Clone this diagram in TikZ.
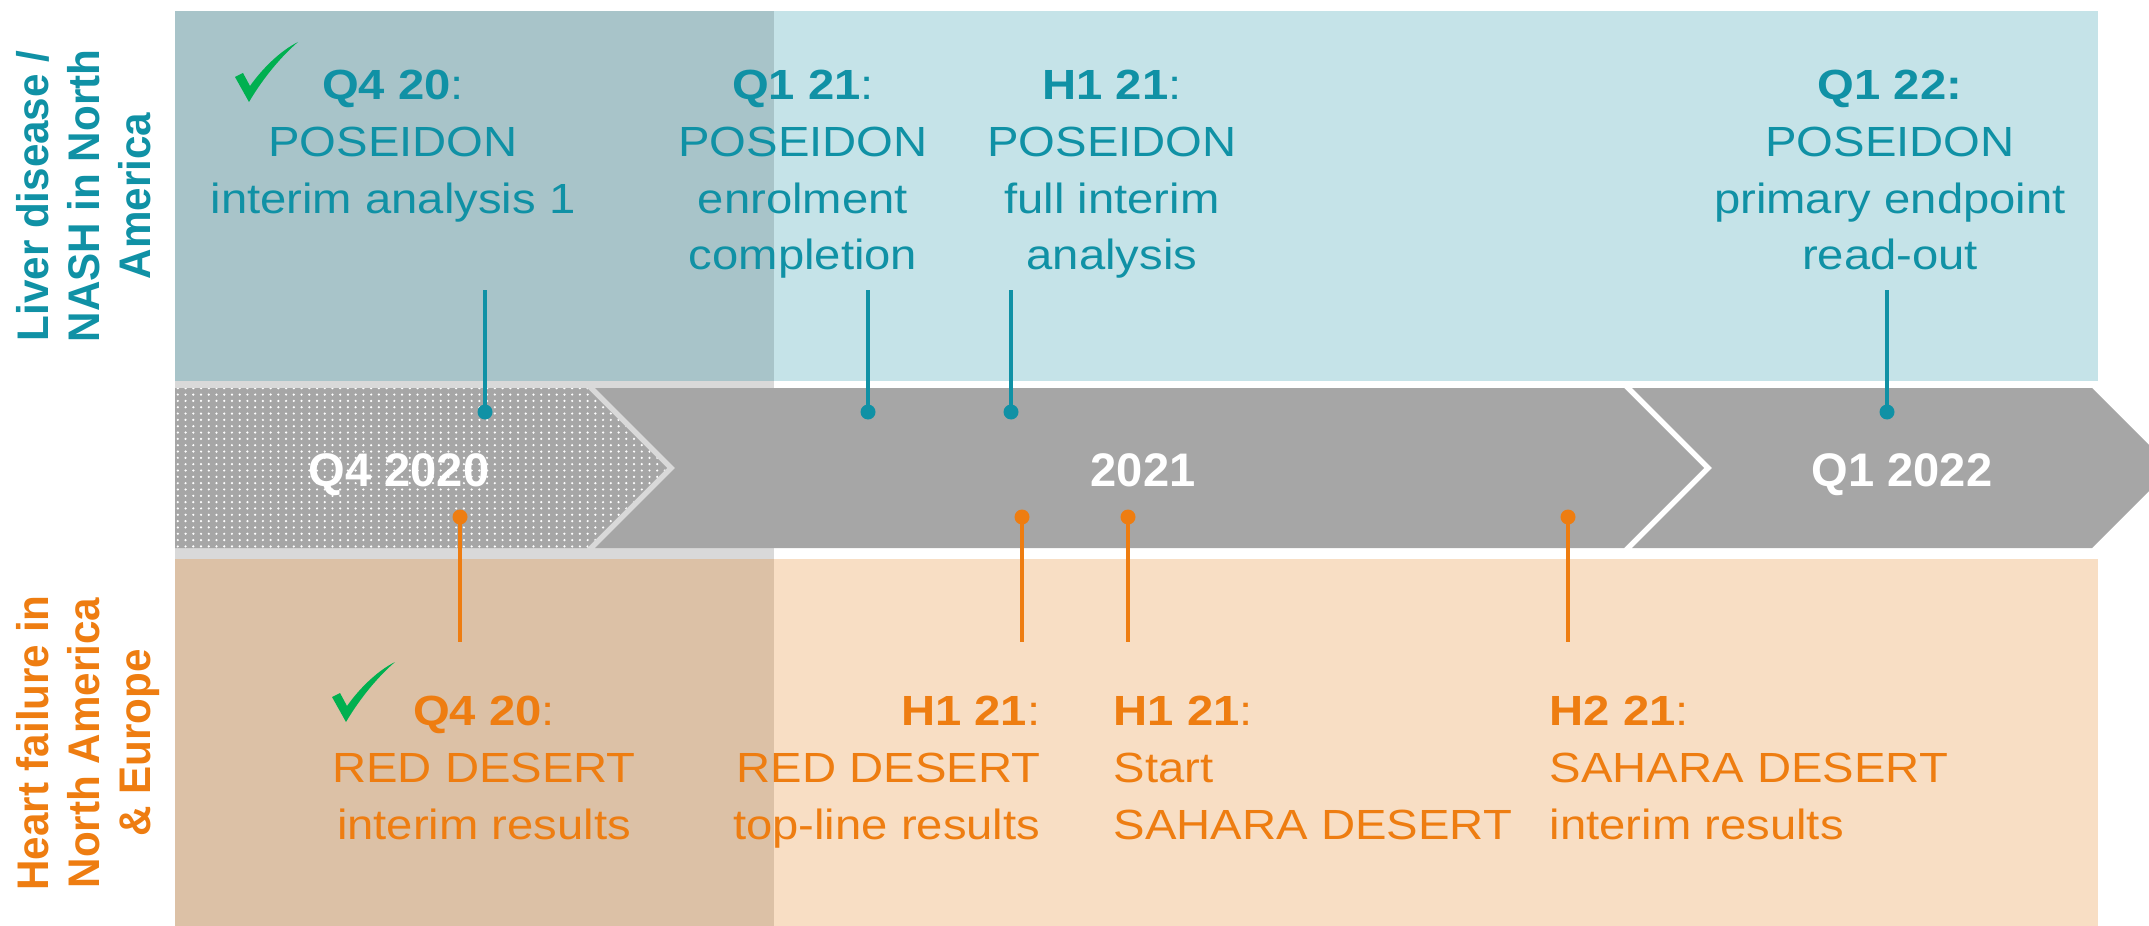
\documentclass[tikz,border=0pt]{standalone}
\usepackage{fontspec}
\setmainfont{Liberation Sans}
\usetikzlibrary{patterns}

\definecolor{tealtxt}{RGB}{16,145,165}
\definecolor{orangetxt}{RGB}{238,125,17}
\definecolor{tealband}{RGB}{197,227,232}
\definecolor{peachband}{RGB}{248,222,196}
\definecolor{tealshade}{RGB}{168,196,201}
\definecolor{peachshade}{RGB}{220,193,166}
\definecolor{gapshade}{RGB}{217,217,217}
\definecolor{bargrey}{RGB}{166,166,166}
\definecolor{tickgreen}{RGB}{0,176,80}

\pgfdeclarepatternformonly{finedots}{\pgfqpoint{-0.5pt}{-0.5pt}}{\pgfqpoint{0.5pt}{0.5pt}}{\pgfqpoint{2.2pt}{1.8pt}}{\pgfpathcircle{\pgfpointorigin}{0.35pt}\pgfusepath{fill}}

\newcommand{\tick}[2]{\fill[tickgreen,shift={(#1,#2)}] (0,0) -- (8,-4) -- (15,9) .. controls (27,-8) and (45,-26) .. (63,-35) .. controls (48,-22) and (30,-2) .. (14,25) -- cycle;}

\tikzset{
  bodytxt/.style={inner sep=0pt, xscale=1.12, font=\fontsize{12}{16.2}\selectfont},
  toptxt/.style={bodytxt, text=tealtxt, align=center, anchor=north},
  bottxt/.style={bodytxt, text=orangetxt},
  sidelbl/.style={inner sep=0pt, rotate=90, yscale=1.05, align=center, anchor=north, font=\fontsize{12}{13.8}\selectfont\bfseries},
  barlbl/.style={inner sep=0pt, text=white, anchor=base, font=\fontsize{13.4}{15}\selectfont\bfseries},
  tdot/.style={circle, fill=tealtxt, inner sep=0pt, minimum size=1.5mm},
  bdot/.style={circle, fill=orangetxt, inner sep=0pt, minimum size=1.5mm},
  tline/.style={draw=tealtxt, line width=0.45mm},
  bline/.style={draw=orangetxt, line width=0.45mm}
}

\begin{document}
\begin{tikzpicture}[x=0.1mm,y=-0.1mm]
\useasboundingbox (0,0) rectangle (2149,926);

%Bands
\fill[tealband] (175,11) rectangle (2098,381);
\fill[peachband] (175,559) rectangle (2098,926);
%Shaded past
\fill[tealshade] (175,11) rectangle (774,381);
\fill[gapshade] (175,381) rectangle (774,559);
\fill[peachshade] (175,559) rectangle (774,926);

%Timeline
\fill[pattern=finedots,pattern color=white,preaction={fill=bargrey}] (175,388) -- (587,388) -- (667,468) -- (587,548) -- (175,548) -- cycle;
\fill[bargrey] (595,388) -- (1624,388) -- (1704,468) -- (1624,548) -- (595,548) -- (675,468) -- cycle;
\fill[bargrey] (1632,388) -- (2092,388) -- (2172,468) -- (2092,548) -- (1632,548) -- (1712,468) -- cycle;
\node[barlbl] (q4) at (399,486) {Q4 2020};
\node[barlbl] (y21) at (1143,486) {2021};
\node[barlbl] (q1) at (1902,486) {Q1 2022};

%Side labels
\node[sidelbl,text=tealtxt] (liver) at (16,196) {Liver disease /\\NASH in North\\America};
\node[sidelbl,text=orangetxt] (heart) at (16,743) {Heart failure in\\North America\\\& Europe};

%POSEIDON
\node[toptxt] (p1) at (393,69) {\textbf{Q4 20}:\\POSEIDON\\interim analysis 1};
\node[toptxt] (p2) at (803,69) {\textbf{Q1 21}:\\POSEIDON\\enrolment\\completion};
\node[toptxt] (p3) at (1112,69) {\textbf{H1 21}:\\POSEIDON\\full interim\\analysis};
\node[toptxt] (p4) at (1890,69) {\textbf{Q1 22:}\\POSEIDON\\primary endpoint\\read-out};
\tick{235}{77}

\node[tdot] (pd1) at (485,412) {};
\node[tdot] (pd2) at (868,412) {};
\node[tdot] (pd3) at (1011,412) {};
\node[tdot] (pd4) at (1887,412) {};
\coordinate (pe1) at (485,290);
\coordinate (pe2) at (868,290);
\coordinate (pe3) at (1011,290);
\coordinate (pe4) at (1887,290);
\draw[tline] (pd1.center) -- (pe1);
\draw[tline] (pd2.center) -- (pe2);
\draw[tline] (pd3.center) -- (pe3);
\draw[tline] (pd4.center) -- (pe4);

%DESERT
\node[bottxt,align=center,anchor=north] (r1) at (484,695) {\textbf{Q4 20}:\\RED DESERT\\interim results};
\node[bottxt,align=right,anchor=north east] (r2) at (1041,695) {\textbf{H1 21}:\\RED DESERT\\top-line results};
\node[bottxt,align=left,anchor=north west] (r3) at (1113,695) {\textbf{H1 21}:\\Start\\SAHARA DESERT};
\node[bottxt,align=left,anchor=north west] (r4) at (1549,695) {\textbf{H2 21}:\\SAHARA DESERT\\interim results};
\tick{332}{697}

\node[bdot] (rd1) at (460,517) {};
\node[bdot] (rd2) at (1022,517) {};
\node[bdot] (rd3) at (1128,517) {};
\node[bdot] (rd4) at (1568,517) {};
\coordinate (re1) at (460,642);
\coordinate (re2) at (1022,642);
\coordinate (re3) at (1128,642);
\coordinate (re4) at (1568,642);
\draw[bline] (rd1.center) -- (re1);
\draw[bline] (rd2.center) -- (re2);
\draw[bline] (rd3.center) -- (re3);
\draw[bline] (rd4.center) -- (re4);
\end{tikzpicture}
\end{document}
